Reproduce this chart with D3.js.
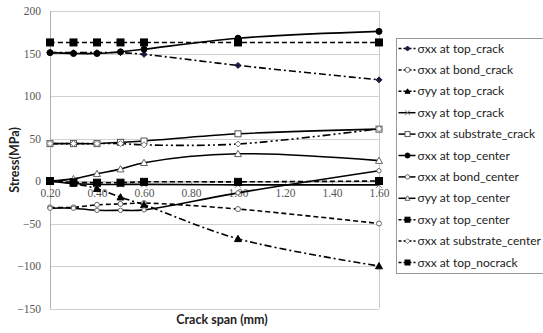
<!DOCTYPE html>
<html>
<head>
<meta charset="utf-8">
<script src="https://cdn.jsdelivr.net/npm/d3@7"></script>
<style>
  body { margin: 0; background: #fff; }
  svg { display: block; }
</style>
</head>
<body>
<div id="chart"></div>
<script>
// crack span values (mm)
const span = [0.2, 0.3, 0.4, 0.5, 0.6, 1.0, 1.6];

// stresses (MPa)
const sxxTopCrack = [151, 151, 151, 151, 149, 136, 119];
const sxxBondCrack = [-31, -31, -28, -27, -26, -33, -50];
const syyTopCrack = [0, -3, -9, -19, -28, -68, -100];
const sxyTopCrack = [0, -3, -4, -4, -4, -4.5, -4.5];
const sxxSubstrateCrack = [44, 44, 44, 45.5, 47, 55.5, 61];
const sxxTopCenter = [151, 150, 150, 152, 155, 168, 176];
const sxxBondCenter = [-32, -32, -34.5, -34.5, -34, -14, 12];
const syyTopCenter = [0, 2.5, 8.5, 14, 21.5, 32, 24];
const sxyTopCenter = [0, -1.5, -2, -2, -1, -1, 0];
const sxxSubstrateCenter = [44, 44, 44, 44, 42.5, 43.5, 61.5];
const sxxTopNocrack = [163, 163, 163, 163, 163, 163, 163];

const xTicks = [0.2, 0.4, 0.6, 0.8, 1.0, 1.2, 1.4, 1.6];
const yTicks = [-150, -100, -50, 0, 50, 100, 150, 200];

const series = [
  { name: 'σxx at top_crack', values: sxxTopCrack, dash: '7,3,2,3', marker: 'diamond', fill: true, size: 3 },
  { name: 'σxx at bond_crack', values: sxxBondCrack, dash: '5,3', marker: 'circle', fill: false, size: 2.5 },
  { name: 'σyy at top_crack', values: syyTopCrack, dash: '7,3,2,3', marker: 'triangle', fill: true, size: 3.5 },
  { name: 'σxy at top_crack', values: sxyTopCrack, dash: null, marker: 'cross', fill: false, size: 3 },
  { name: 'σxx at substrate_crack', values: sxxSubstrateCrack, dash: null, marker: 'square', fill: false, size: 3 },
  { name: 'σxx at top_center', values: sxxTopCenter, dash: null, marker: 'circle', fill: true, size: 3 },
  { name: 'σxx at bond_center', values: sxxBondCenter, dash: null, marker: 'circle', fill: false, size: 2.2 },
  { name: 'σyy at top_center', values: syyTopCenter, dash: null, marker: 'triangle', fill: false, size: 3.5 },
  { name: 'σxy at top_center', values: sxyTopCenter, dash: '5,3', marker: 'square', fill: true, size: 3.5 },
  { name: 'σxx at substrate_center', values: sxxSubstrateCenter, dash: '8,3,2,3,2,3', marker: 'diamond', fill: false, size: 3 },
  { name: 'σxx at top_nocrack', values: sxxTopNocrack, dash: '5,3', marker: 'square', fill: true, size: 3.5 }
];

const width = 543, height = 333;
const svg = d3.select('#chart').append('svg')
  .attr('width', width)
  .attr('height', height);

const x = d3.scaleLinear().domain([0.2, 1.6]).range([50, 379]);
const y = d3.scaleLinear().domain([-150, 200]).range([308.5, 11]);

// gridlines
svg.append('g')
  .selectAll('line')
  .data(yTicks)
  .join('line')
  .attr('x1', x(0.2)).attr('x2', x(1.6))
  .attr('y1', d => Math.round(y(d)) + 0.5)
  .attr('y2', d => Math.round(y(d)) + 0.5)
  .attr('stroke', '#d0d0d0')
  .attr('stroke-width', 1);

// left + right borders
svg.append('line')
  .attr('x1', x(0.2) + 0.5).attr('x2', x(0.2) + 0.5)
  .attr('y1', y(200)).attr('y2', y(-150))
  .attr('stroke', '#b0b0b0');
svg.append('line')
  .attr('x1', x(1.6) + 0.5).attr('x2', x(1.6) + 0.5)
  .attr('y1', y(200)).attr('y2', y(-150))
  .attr('stroke', '#c8c8c8');

// y axis labels
const yAxis = d3.axisLeft(y).tickValues(yTicks).tickSize(0).tickPadding(0)
  .tickFormat(d3.format('d'));
svg.append('g')
  .attr('transform', 'translate(41,0)')
  .call(yAxis)
  .call(g => g.select('.domain').remove())
  .call(g => g.selectAll('text')
    .attr('font-family', '"Liberation Serif", serif')
    .attr('font-size', 11.5)
    .attr('fill', '#555'));

// x axis at y = 0
const xAxis = d3.axisBottom(x).tickValues(xTicks).tickSize(3).tickPadding(4)
  .tickFormat(d3.format('.2f'));
svg.append('g')
  .attr('transform', `translate(0,${Math.round(y(0)) + 0.5})`)
  .call(xAxis)
  .call(g => g.select('.domain').attr('stroke', '#b0b0b0'))
  .call(g => g.selectAll('.tick line').attr('stroke', '#b0b0b0'))
  .call(g => g.selectAll('text')
    .attr('font-family', '"Liberation Serif", serif')
    .attr('font-size', 11.5)
    .attr('fill', '#555'));

// markers
function drawMarker(sel, s) {
  const r = s.size;
  const fill = s.fill ? '#000' : '#fff';
  if (s.marker === 'circle') {
    sel.append('circle').attr('r', r).attr('fill', fill).attr('stroke', s.fill ? '#000' : '#666').attr('stroke-width', 1);
  } else if (s.marker === 'square') {
    sel.append('rect').attr('x', -r).attr('y', -r).attr('width', 2 * r).attr('height', 2 * r)
      .attr('fill', fill).attr('stroke', s.fill ? '#000' : '#555').attr('stroke-width', 1);
  } else if (s.marker === 'triangle') {
    sel.append('path').attr('d', `M0,${-r}L${r},${r * 0.8}L${-r},${r * 0.8}Z`)
      .attr('fill', fill).attr('stroke', s.fill ? '#000' : '#666').attr('stroke-width', 1);
  } else if (s.marker === 'diamond') {
    sel.append('path').attr('d', `M0,${-r}L${r},0L0,${r}L${-r},0Z`)
      .attr('fill', s.fill ? '#1a1a40' : '#fff').attr('stroke', s.fill ? '#1a1a40' : '#777').attr('stroke-width', 1);
  } else if (s.marker === 'cross') {
    sel.append('path').attr('d', `M${-r},${-r}L${r},${r}M${-r},${r}L${r},${-r}`)
      .attr('stroke', '#777').attr('stroke-width', 1);
  }
}

const line = d3.line()
  .x(d => x(d[0]))
  .y(d => y(d[1]))
  .curve(d3.curveCatmullRom.alpha(0.5));

// lines first, then markers on top
series.forEach(s => {
  const pts = span.map((v, i) => [v, s.values[i]]);
  svg.append('path')
    .datum(pts)
    .attr('d', line)
    .attr('fill', 'none')
    .attr('stroke', '#000')
    .attr('stroke-width', 1.6)
    .attr('stroke-dasharray', s.dash);
});
series.forEach(s => {
  const pts = span.map((v, i) => [v, s.values[i]]);
  svg.append('g')
    .selectAll('g')
    .data(pts)
    .join('g')
    .attr('transform', d => `translate(${x(d[0])},${y(d[1])})`)
    .each(function() { drawMarker(d3.select(this), s); });
});

// axis titles
svg.append('text')
  .attr('transform', 'translate(19,160) rotate(-90)')
  .attr('text-anchor', 'middle')
  .attr('font-family', 'Lato, sans-serif')
  .attr('font-weight', 'bold')
  .attr('font-size', 12.5)
  .attr('fill', '#222')
  .text('Stress(MPa)');

svg.append('text')
  .attr('x', 222).attr('y', 324)
  .attr('text-anchor', 'middle')
  .attr('font-family', 'Lato, sans-serif')
  .attr('font-weight', 'bold')
  .attr('font-size', 12.5)
  .attr('fill', '#222')
  .text('Crack span (mm)');

// legend
const legend = svg.append('g').attr('transform', 'translate(396.5,38.5)');
legend.append('rect')
  .attr('width', 160).attr('height', 235)
  .attr('fill', '#fff')
  .attr('stroke', '#999');

const item = legend.selectAll('g.item')
  .data(series)
  .join('g')
  .attr('class', 'item')
  .attr('transform', (d, i) => `translate(0,${10 + i * 21.4})`);

item.append('line')
  .attr('x1', 2).attr('x2', 19)
  .attr('stroke', '#000')
  .attr('stroke-width', 1.5)
  .attr('stroke-dasharray', d => d.dash ? '3,2' : null);

item.append('g')
  .attr('transform', 'translate(11,0)')
  .each(function(d) { drawMarker(d3.select(this), Object.assign({}, d, { size: Math.min(d.size, 2.5) })); });

item.append('text')
  .attr('x', 21).attr('y', 4)
  .attr('font-family', 'Lato, sans-serif')
  .attr('font-size', 12)
  .attr('fill', '#222')
  .text(d => d.name);
</script>
</body>
</html>
